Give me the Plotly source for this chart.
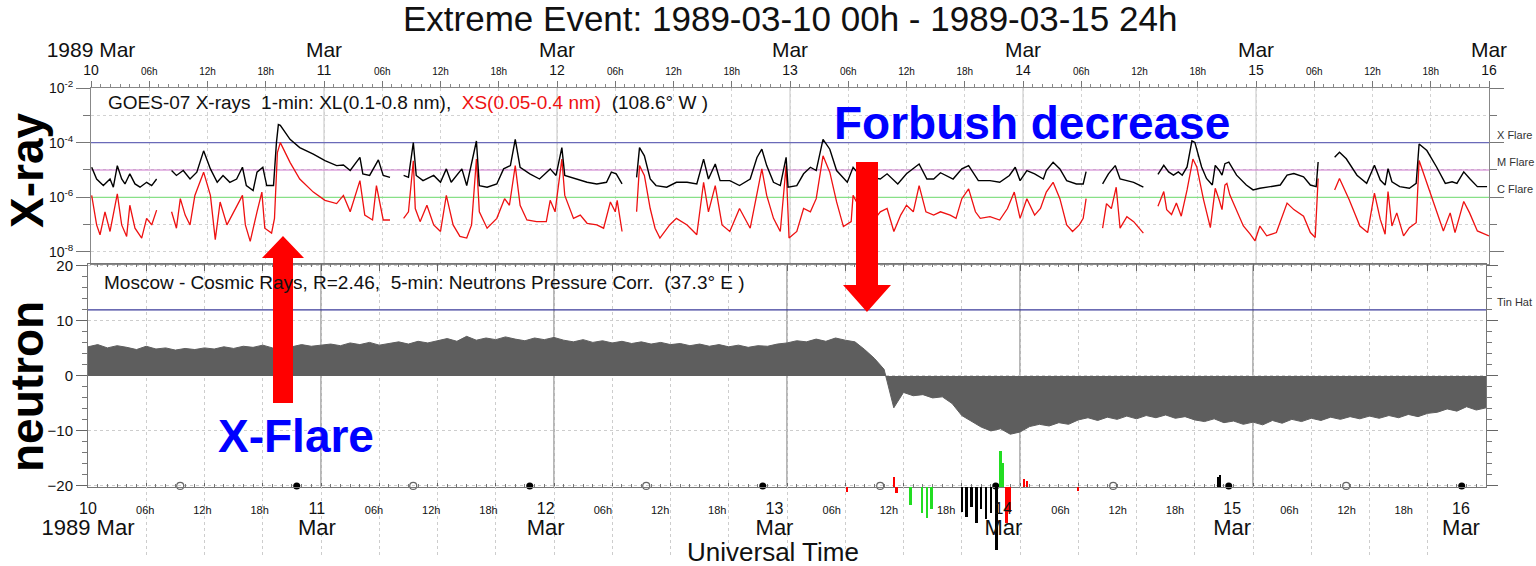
import math
import plotly.graph_objects as go

# ---------------- data (hours since 1989-03-10 00:00 UT) ----------------
# GOES-07 long channel XL (0.1-0.8 nm), log10(W/m^2); (hour, None) marks a data gap
xl_points = [
    (0.07, -4.90), (0.58, -5.33), (1.27, -5.57), (1.96, -5.33), (2.3, -5.63), (2.71, -4.84), (3.16, -5.33),
    (3.5, -5.51), (4.0, -5.14), (4.53, -5.51), (5.05, -5.63), (5.73, -5.45), (6.25, -5.57), (6.76, -5.33),
    (7.5, None),
    (8.3, -5.02), (8.8, -5.20), (9.5, -5.02), (10.2, -5.33), (10.9, -5.08), (11.6, -4.30), (12.3, -4.96),
    (13.0, -5.45), (13.6, -5.20), (14.3, -5.45), (15.0, -5.33), (15.6, -4.90), (16.0, -5.57), (16.7, -5.75),
    (17.1, -5.08), (17.7, -4.90), (18.1, -5.57), (18.8, -5.57), (19.1, -4.00), (19.3, -3.34), (19.5, -3.37),
    (20.5, -3.88), (21.5, -4.18), (22.9, -4.42), (24.1, -4.66), (25.3, -4.84), (26.0, -4.82), (26.7, -5.02),
    (27.7, -4.54), (28.0, -5.14), (28.7, -5.20), (29.6, -4.63), (30.1, -5.20), (30.8, -5.27),
    (31.5, None),
    (32.2, -5.20), (32.7, -5.27), (33.2, -4.00), (33.5, -5.20), (34.2, -5.39), (35.3, -5.20), (36.0, -5.45),
    (36.6, -4.96), (37.1, -5.45), (38.2, -4.96), (38.7, -5.57), (39.7, -3.94), (40.0, -5.57), (40.8, -5.63),
    (41.8, -5.51), (42.5, -4.96), (43.2, -4.84), (43.7, -3.88), (44.2, -4.90), (45.2, -5.14), (46.2, -5.33),
    (47.3, -4.96), (47.9, -5.20), (48.5, -4.18), (48.8, -5.20), (50.4, -5.39), (51.1, -5.45), (52.1, -5.51),
    (53.1, -5.45), (53.6, -5.08), (54.1, -5.14), (54.7, -5.51),
    (55.5, None),
    (56.2, -5.27), (56.5, -4.18), (57.0, -4.48), (57.6, -5.33), (58.2, -5.57), (59.3, -5.63), (60.3, -5.45),
    (61.4, -5.45), (62.4, -5.51), (63.1, -4.60), (63.6, -5.33), (64.3, -4.78), (64.8, -5.39), (65.8, -5.39),
    (66.8, -5.57), (67.9, -5.33), (68.6, -4.54), (69.1, -4.24), (69.6, -4.84), (70.3, -5.45), (71.0, -5.57),
    (71.6, -4.54), (71.8, -5.63), (72.7, -5.57), (73.4, -5.14), (74.1, -4.90), (74.7, -5.02), (75.4, -3.88),
    (76.1, -4.24), (76.8, -5.02), (77.9, -5.45), (78.5, -4.90), (79.2, -5.20), (81.3, -5.33), (82.0, -5.14),
    (83.1, -5.51), (84.0, -5.14), (85.3, -4.78), (86.1, -5.33), (86.8, -5.33), (87.5, -5.10), (88.8, -5.33),
    (89.7, -4.96), (90.4, -4.84), (91.4, -5.39), (92.6, -5.39), (93.6, -5.45), (94.6, -5.20), (95.2, -4.90),
    (95.7, -5.39), (96.4, -5.02), (97.2, -5.14), (98.1, -5.33), (98.4, -5.02), (99.1, -4.72), (99.8, -4.96),
    (100.5, -5.39), (101.5, -5.51), (102.2, -5.51), (102.5, -5.06),
    (103.3, None),
    (104.2, -5.51), (104.8, -5.14), (105.5, -4.84), (106.0, -5.33), (106.7, -5.39), (107.4, -5.45), (108.4, -5.63),
    (109.2, None),
    (109.9, -5.16), (110.5, -4.83), (111.0, -5.07), (111.5, -5.19), (112.0, -5.07), (112.4, -5.19), (112.9, -4.89),
    (113.4, -3.93), (113.7, -3.99), (114.4, -4.89), (114.9, -5.31), (115.5, -5.55), (115.8, -4.83), (116.2, -5.01),
    (116.5, -5.19), (116.8, -4.77), (117.2, -4.71), (118.0, -5.19), (119.0, -5.55), (119.7, -5.73), (120.4, -5.67),
    (121.5, -5.61), (122.5, -5.55), (123.2, -5.19), (123.9, -5.13), (124.9, -5.25), (125.6, -5.55), (126.2, -5.61),
    (126.4, -4.71),
    (127.2, None),
    (128.1, -4.53), (128.6, -4.35), (129.3, -4.59), (130.4, -5.19), (131.4, -5.49), (132.2, -4.83), (132.8, -5.37),
    (133.3, -5.55), (133.6, -4.95), (134.0, -5.43), (134.8, -5.61), (135.8, -5.67), (136.5, -5.49), (136.8, -4.05),
    (137.6, -4.29), (138.6, -4.89), (139.5, -5.49), (140.2, -5.43), (140.7, -5.49), (141.4, -5.07), (142.0, -5.31),
    (142.8, -5.61), (143.8, -5.61),
]

# GOES-07 short channel XS (0.05-0.4 nm), log10(W/m^2)
xs_points = [
    (0.07, -5.93), (0.58, -7.01), (0.93, -7.37), (1.44, -6.53), (1.96, -7.25), (2.71, -5.87), (3.16, -7.01),
    (3.67, -7.43), (4.0, -6.29), (4.53, -7.13), (5.22, -7.49), (5.73, -6.77), (6.25, -7.01), (6.76, -6.47),
    (7.5, None),
    (8.3, -6.53), (8.8, -7.13), (9.2, -6.05), (9.7, -6.65), (10.2, -7.01), (10.7, -5.93), (11.6, -5.08),
    (12.3, -5.93), (12.8, -7.55), (13.3, -6.17), (14.0, -7.01), (14.7, -6.53), (15.6, -5.93), (15.9, -7.01),
    (16.4, -7.61), (17.1, -6.53), (17.6, -5.81), (17.9, -7.13), (18.6, -7.31), (18.9, -6.77), (19.2, -4.36),
    (19.5, -4.00), (20.5, -4.72), (21.5, -5.33), (22.9, -5.81), (24.1, -6.11), (25.3, -6.23), (26.0, -5.93),
    (26.7, -6.53), (27.7, -5.39), (28.2, -6.65), (29.0, -6.83), (29.4, -5.57), (30.1, -6.83), (30.8, -6.83),
    (31.5, None),
    (32.2, -6.77), (32.7, -6.53), (33.2, -4.66), (33.4, -6.41), (33.9, -6.89), (34.6, -6.29), (35.3, -7.01),
    (36.0, -7.25), (36.6, -5.93), (37.3, -7.01), (38.0, -7.43), (38.7, -7.49), (39.2, -7.01), (39.7, -4.60),
    (40.0, -6.53), (40.8, -7.13), (41.8, -6.77), (42.6, -6.05), (43.1, -6.29), (43.7, -4.84), (44.2, -6.29),
    (44.9, -6.83), (45.9, -6.89), (46.9, -6.89), (47.3, -6.11), (47.8, -6.53), (48.5, -4.60), (48.8, -5.93),
    (49.7, -6.77), (50.4, -6.65), (51.1, -6.95), (52.1, -7.01), (52.8, -7.13), (53.5, -6.17), (54.0, -6.53),
    (54.2, -6.11), (54.7, -7.25),
    (55.5, None),
    (56.2, -6.53), (56.5, -4.84), (57.0, -5.20), (57.6, -6.41), (58.1, -7.13), (58.6, -7.49), (59.6, -7.01),
    (60.3, -6.77), (61.4, -7.01), (62.4, -7.37), (63.1, -5.45), (63.6, -6.53), (64.3, -5.57), (65.0, -7.01),
    (65.8, -7.25), (66.8, -6.41), (67.9, -7.13), (68.6, -5.93), (69.1, -4.96), (69.6, -5.93), (70.3, -6.77),
    (71.0, -7.25), (71.6, -4.84), (71.9, -7.49), (72.7, -7.25), (73.4, -6.41), (74.1, -6.53), (74.7, -6.05),
    (75.4, -4.48), (76.1, -5.08), (76.8, -6.17), (77.5, -7.07), (78.3, -6.89), (78.5, -5.93), (79.5, -6.60),
    (80.5, -6.90), (81.3, -6.53), (82.0, -6.41), (82.7, -7.25), (83.4, -6.65), (84.0, -6.29), (84.7, -6.53),
    (85.3, -5.57), (86.0, -6.53), (86.8, -6.65), (87.5, -6.53), (88.5, -6.65), (89.1, -6.77), (89.7, -6.05),
    (90.4, -5.69), (91.1, -6.53), (91.6, -6.77), (92.6, -6.71), (93.6, -6.83), (94.4, -6.41), (95.1, -5.81),
    (95.7, -6.77), (96.4, -6.05), (97.2, -6.65), (97.8, -6.41), (98.4, -5.81), (99.1, -5.45), (99.8, -6.05),
    (100.5, -7.01), (101.1, -7.25), (101.8, -7.01), (102.2, -6.77), (102.5, -6.05),
    (103.3, None),
    (104.2, -7.13), (104.6, -6.23), (105.1, -6.41), (105.6, -5.63), (106.0, -7.13), (106.7, -6.71), (107.4, -6.89),
    (108.1, -7.19), (108.4, -7.31),
    (109.2, None),
    (109.9, -6.33), (110.5, -5.79), (110.8, -6.45), (111.3, -6.63), (111.8, -6.21), (112.3, -6.69), (112.9, -5.73),
    (113.5, -4.60), (113.9, -4.89), (114.6, -6.09), (115.3, -7.11), (115.8, -5.67), (116.2, -6.09), (116.5, -6.45),
    (116.8, -5.55), (117.0, -5.49), (117.3, -5.91), (118.0, -6.45), (118.7, -7.05), (119.4, -7.35), (119.9, -7.59),
    (120.4, -7.05), (121.1, -7.41), (122.1, -7.29), (123.2, -6.21), (123.9, -6.45), (124.9, -6.69), (125.6, -7.29),
    (126.1, -7.47), (126.4, -5.31),
    (127.2, None),
    (128.1, -5.73), (128.6, -5.31), (129.6, -6.09), (130.7, -7.05), (131.5, -7.29), (132.2, -5.85), (132.8, -6.81),
    (133.3, -7.35), (133.6, -5.79), (134.0, -7.05), (134.5, -6.57), (135.2, -7.41), (135.8, -7.11), (136.5, -6.93),
    (136.8, -4.65), (137.6, -5.49), (138.6, -6.57), (139.3, -7.23), (140.0, -6.57), (140.5, -7.29), (141.4, -6.15),
    (142.0, -6.57), (142.8, -7.23), (143.5, -7.35), (144.0, -7.41),
]

# Moscow neutron monitor, pressure corrected, % deviation, hourly from hour 0 to 144
neutron_hours = list(range(0, 145))
neutron_pct = [
    5.3, 5.7, 5.1, 5.5, 5.2, 4.8, 5.4, 4.9, 5.1, 4.7, 5.0, 4.8,
    5.1, 4.9, 5.3, 5.0, 5.4, 5.2, 5.6, 5.1, 5.5, 5.3, 5.7, 5.4,
    5.6, 5.8, 5.5, 6.0, 5.7, 6.1, 5.6, 5.9, 6.2, 5.8, 6.3, 6.0,
    6.4, 6.8, 6.3, 7.2, 6.5, 6.9, 6.6, 7.1, 6.7, 6.4, 6.9, 6.6,
    7.0, 6.5, 6.2, 6.6, 6.1, 6.4, 6.0, 6.3, 5.9, 6.2, 5.8, 6.1,
    5.7, 5.9, 5.5, 5.8, 5.4, 5.7, 5.3, 5.6, 5.2, 5.5, 5.4, 5.8,
    6.0, 6.4, 6.2, 6.7, 6.3, 6.9, 6.5, 6.2, 4.8, 3.2, 1.2, -5.8,
    -3.0, -3.6, -3.4, -4.0, -3.8, -5.0, -7.2, -8.2, -9.3, -10.0, -9.6, -10.6,
    -10.2, -9.2, -8.8, -9.1, -8.5, -8.8, -8.0, -7.6, -8.1, -7.5, -7.9, -7.3,
    -7.8, -7.2, -7.6, -7.1, -7.7, -7.4, -8.0, -8.3, -7.8, -8.5, -8.2, -8.8,
    -8.4, -8.9, -8.1, -8.6, -7.9, -8.3, -7.7, -8.1, -7.5, -7.9, -7.4, -7.8,
    -7.3, -7.7, -7.2, -7.6, -7.0, -7.4, -6.8, -6.6, -6.0, -6.4, -5.6, -6.2, -5.8,
]

moon_open_hours = [9.5, 33.5, 57.5, 81.6, 105.6, 129.6]
moon_filled_hours = [21.5, 45.5, 69.5, 93.5, 117.5, 141.5]

# small event indicator bars drawn about the bottom axis
ind_hours = [78.2, 83.0, 83.3, 84.7, 85.9, 86.4, 86.9, 90.0, 90.5, 91.0, 91.5, 92.0, 92.5, 93.0,
             93.6, 94.0, 94.2, 94.6, 94.9, 96.4, 96.7, 102.0, 116.4, 116.6]
ind_values = [-0.5, 1.0, -0.6, -1.8, -2.6, -3.1, -2.2, -2.5, -3.0, -2.0, -3.6, -2.2, -3.2, -2.6,
              -6.3, 3.6, 2.4, -3.6, -2.5, 0.8, 0.6, -0.4, 1.0, 1.2]
ind_colors = ["#ff0000", "#ff0000", "#ff0000", "#22dd22", "#22dd22", "#22dd22", "#22dd22",
              "#000000", "#000000", "#000000", "#000000", "#000000", "#000000", "#000000",
              "#000000", "#22dd22", "#22dd22", "#ff0000", "#ff0000", "#ff0000", "#ff0000",
              "#ff0000", "#000000", "#000000"]

flare_levels = [1e-4, 1e-5, 1e-6]
flare_names = ["X Flare", "M Flare", "C Flare"]
flare_colors = ["#6a6ab8", "#cc77cc", "#88e088"]
tin_hat_level = 12

tick_hours = list(range(0, 145, 6))
day_hours = [24, 48, 72, 96, 120]
day_labels = ["10", "11", "12", "13", "14", "15", "16"]
hour_labels = ["06h", "12h", "18h"]
xray_tickvals = [1e-8, 1e-6, 1e-4, 1e-2]
xray_ticktext = ["10<sup>-8</sup>", "10<sup>-6</sup>", "10<sup>-4</sup>", "10<sup>-2</sup>"]
xray_minorvals = [1e-7, 1e-5, 1e-3]
neutron_tickvals = [-20, -10, 0, 10, 20]

# ---------------- layout helpers ----------------
W, H = 1536, 566
FONT = "Liberation Sans, Arial, sans-serif"


def px(x):
    return x / W


def py(y):
    return 1 - y / H


top_text, bottom_text = [], []
for h in tick_hours:
    if h % 24 == 0:
        d = day_labels[h // 24]
        month = "1989 Mar" if h == 0 else "Mar"
        top_text.append(f"<span style='font-size:21px'>{month}</span><br>{d}")
        bottom_text.append(f"{d}<br><span style='font-size:22px'>{month}</span>")
    else:
        lab = hour_labels[(h % 24) // 6 - 1]
        top_text.append(f"<span style='font-size:10px'>{lab}</span>")
        bottom_text.append(f"<span style='font-size:11px'>{lab}</span>")

fig = go.Figure()

# flare class reference lines
for lvl, col in zip(flare_levels, flare_colors):
    fig.add_trace(go.Scatter(x=[0, 144], y=[lvl, lvl], mode="lines", line=dict(color=col, width=1.2),
                             xaxis="x", yaxis="y", hoverinfo="skip", showlegend=False))

fig.add_trace(go.Scatter(x=[p[0] for p in xs_points],
                         y=[None if p[1] is None else 10 ** p[1] for p in xs_points],
                         mode="lines", line=dict(color="#ee1111", width=1.3),
                         xaxis="x", yaxis="y", connectgaps=False, showlegend=False))
fig.add_trace(go.Scatter(x=[p[0] for p in xl_points],
                         y=[None if p[1] is None else 10 ** p[1] for p in xl_points],
                         mode="lines", line=dict(color="#000000", width=1.4),
                         xaxis="x", yaxis="y", connectgaps=False, showlegend=False))

# neutron panel
fig.add_trace(go.Scatter(x=[0, 144], y=[tin_hat_level, tin_hat_level], mode="lines",
                         line=dict(color="#3a3a9a", width=1.2), xaxis="x2", yaxis="y2",
                         hoverinfo="skip", showlegend=False))
fig.add_trace(go.Scatter(x=neutron_hours, y=neutron_pct, mode="lines", fill="tozeroy",
                         fillcolor="#5e5e5e", line=dict(color="#5e5e5e", width=1),
                         xaxis="x2", yaxis="y2", showlegend=False))
fig.add_trace(go.Bar(x=ind_hours, y=ind_values, marker_color=ind_colors, width=0.25,
                     xaxis="x2", yaxis="y4", showlegend=False))
fig.add_trace(go.Scatter(x=moon_open_hours, y=[-20] * len(moon_open_hours), mode="markers",
                         marker=dict(symbol="circle-open", size=7, color="#666", line=dict(width=1.2)),
                         xaxis="x2", yaxis="y2", cliponaxis=False, showlegend=False))
fig.add_trace(go.Scatter(x=moon_filled_hours, y=[-20] * len(moon_filled_hours), mode="markers",
                         marker=dict(symbol="circle", size=7, color="#000"),
                         xaxis="x2", yaxis="y2", cliponaxis=False, showlegend=False))
# carrier for the bottom time-label axis
fig.add_trace(go.Scatter(x=[0, 144], y=[0, 0], mode="markers", marker=dict(opacity=0),
                         xaxis="x3", yaxis="y3", hoverinfo="skip", showlegend=False))

# day boundary lines
for d in day_hours:
    fig.add_shape(type="line", xref="x", yref="y domain", x0=d, x1=d, y0=0, y1=1,
                  line=dict(color="#c4c4c4", width=1), layer="below")
    fig.add_shape(type="line", xref="x2", yref="y2 domain", x0=d, x1=d, y0=0, y1=1,
                  line=dict(color="#6e6e6e", width=1), layer="below")


def arrow_path(pts):
    return "M " + " L ".join(f"{px(x):.5f},{py(y):.5f}" for x, y in pts) + " Z"


up_arrow = [(273, 403), (273, 258), (262, 258), (283, 236), (304, 258), (293, 258), (293, 403)]
down_arrow = [(856, 162), (856, 285), (843, 285), (867, 312), (891, 285), (878, 285), (878, 162)]
for pts in (up_arrow, down_arrow):
    fig.add_shape(type="path", xref="paper", yref="paper", path=arrow_path(pts),
                  fillcolor="#ff0000", line=dict(width=0), layer="above")

axis_common = dict(automargin=False, zeroline=False)
fig.update_layout(
    width=W, height=H, autosize=False, template="none",
    margin=dict(l=0, r=0, t=0, b=0, pad=0),
    paper_bgcolor="white", plot_bgcolor="rgba(0,0,0,0)",
    font=dict(family=FONT, color="#111"), bargap=0,
    xaxis=dict(domain=[px(91), px(1489)], range=[0, 144], anchor="y", side="top",
               tickmode="array", tickvals=tick_hours, ticktext=top_text, tickfont=dict(size=14),
               tickangle=0, ticks="outside", ticklen=6, tickcolor="#777",
               minor=dict(tickmode="linear", tick0=0, dtick=1, ticks="outside", ticklen=3, tickcolor="#888"),
               showgrid=True, gridcolor="#d2d2d2", griddash="dot", gridwidth=1,
               showline=True, linecolor="#888", mirror=True, **axis_common),
    yaxis=dict(domain=[py(264), py(88)], type="log", range=[-8.44, -2], anchor="x",
               tickmode="array", tickvals=xray_tickvals, ticktext=xray_ticktext, tickfont=dict(size=14),
               ticks="outside", ticklen=14, tickcolor="#777",
               minor=dict(tickmode="array", tickvals=xray_minorvals, ticks="outside", ticklen=7,
                          tickcolor="#777", showgrid=True, gridcolor="#d2d2d2", griddash="dot"),
               showgrid=True, gridcolor="#d2d2d2", griddash="dot",
               showline=True, linecolor="#888", mirror="ticks", **axis_common),
    xaxis2=dict(domain=[px(88), px(1486)], range=[0, 144], anchor="y2",
                tickmode="array", tickvals=tick_hours, showticklabels=False,
                ticks="inside", ticklen=7, tickcolor="#666",
                minor=dict(tickmode="linear", tick0=0, dtick=1, ticks="inside", ticklen=3, tickcolor="#777"),
                showgrid=True, gridcolor="#cdcdcd", griddash="dot",
                showline=True, linecolor="#777", mirror="ticks", **axis_common),
    yaxis2=dict(domain=[py(487), py(264)], range=[-20.2, 20.36], anchor="x2",
                tickmode="array", tickvals=neutron_tickvals, tickfont=dict(size=15),
                ticks="outside", ticklen=11, tickcolor="#666",
                minor=dict(tickmode="linear", tick0=0, dtick=2, ticks="outside", ticklen=5, tickcolor="#777"),
                showgrid=True, gridcolor="#cdcdcd", griddash="dot",
                showline=True, linecolor="#777", mirror="ticks", **axis_common),
    xaxis3=dict(domain=[px(88), px(1461)], range=[0, 144], anchor="free", position=py(497),
                tickmode="array", tickvals=tick_hours, ticktext=bottom_text, tickfont=dict(size=16),
                tickangle=0, ticks="", showgrid=False, showline=False, **axis_common),
    yaxis3=dict(domain=[0, 0.02], range=[-1, 1], anchor="x3", visible=False, **axis_common),
    yaxis4=dict(domain=[py(555), py(450)], range=[-6.8, 3.7], anchor="x2", visible=False, **axis_common),
)

ann = []
ann.append(dict(text="Extreme Event: 1989-03-10 00h - 1989-03-15 24h", x=px(790), y=py(18),
                font=dict(size=35, color="#111")))
ann.append(dict(text="<b>X-ray</b>", x=px(27), y=py(171), textangle=-90, font=dict(size=46, color="#000")))
ann.append(dict(text="<b>neutron</b>", x=px(27), y=py(387), textangle=-90, font=dict(size=46, color="#000")))
ann.append(dict(text="GOES-07 X-rays\u00a0 1-min: XL(0.1-0.8 nm),\u00a0 <span style='color:#ee1111'>XS(0.05-0.4 nm)</span>"
                     "\u00a0 (108.6° W )", x=px(106), y=py(103), xanchor="left", font=dict(size=19, color="#111")))
ann.append(dict(text="Moscow - Cosmic Rays, R=2.46,\u00a0 5-min: Neutrons Pressure Corr.\u00a0 (37.3° E )",
                x=px(102), y=py(282), xanchor="left", font=dict(size=19, color="#111")))
for lvl, name in zip(flare_levels, flare_names):
    ann.append(dict(text=name, x=px(1495), xref="paper", y=math.log10(lvl), yref="y",
                    xanchor="left", yanchor="bottom", font=dict(size=11, color="#333")))
ann.append(dict(text="Tin Hat", x=px(1495), xref="paper", y=tin_hat_level, yref="y2",
                xanchor="left", yanchor="bottom", font=dict(size=11, color="#333")))
ann.append(dict(text="<b>Forbush decrease</b>", x=px(1032), y=py(123), font=dict(size=46, color="#0000ff")))
ann.append(dict(text="<b>X-Flare</b>", x=px(296), y=py(436), font=dict(size=46, color="#0000ff")))
ann.append(dict(text="Universal Time", x=px(773), y=py(552), font=dict(size=26, color="#111")))

for a in ann:
    a.setdefault("xref", "paper")
    a.setdefault("yref", "paper")
    a.setdefault("showarrow", False)
    a.setdefault("xanchor", "center")
    a.setdefault("yanchor", "middle")
fig.update_layout(annotations=ann)

fig.write_html("out.html")
